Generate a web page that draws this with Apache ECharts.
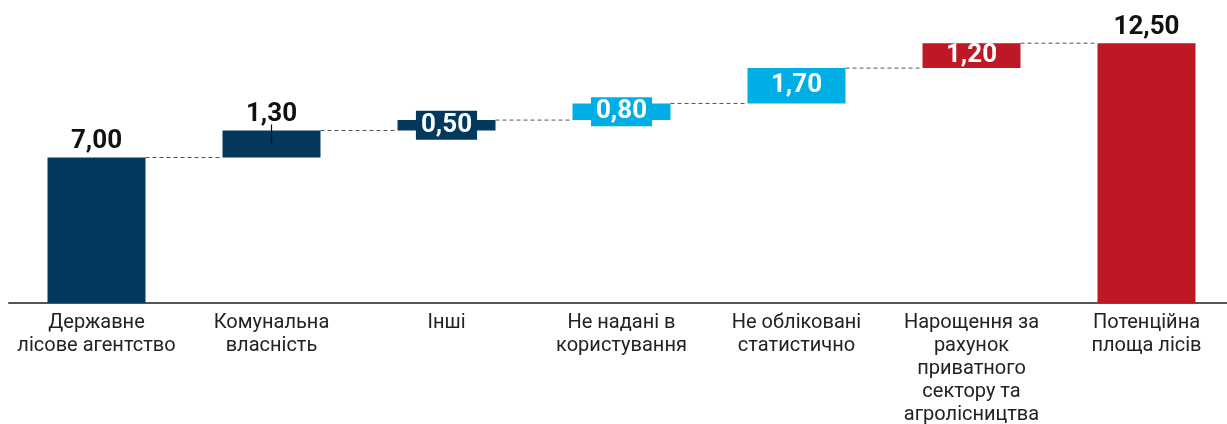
<!DOCTYPE html>
<html>
<head>
<meta charset="utf-8">
<script src="https://cdn.jsdelivr.net/npm/echarts@6/dist/echarts.min.js"></script>
<style>
html,body{margin:0;padding:0;background:#fff;}
#chart{width:1227px;height:424px;}
</style>
</head>
<body>
<div id="chart"></div>
<script>
const categories = [
  "Державне\nлісове агентство",
  "Комунальна\nвласність",
  "Інші",
  "Не надані в\nкористування",
  "Не обліковані\nстатистично",
  "Нарощення за\nрахунок\nприватного\nсектору та\nагролісництва",
  "Потенційна\nплоща лісів"
];
const values = [7.00, 1.30, 0.50, 0.80, 1.70, 1.20, 12.50];
const isTotal = [true, false, false, false, false, false, true];
const barColors = ["#03395C", "#03395C", "#03395C", "#00AEE6", "#00AEE6", "#BE1824", "#BE1824"];
const labelStyle = ["above", "above", "boxed", "boxed", "inside", "inside", "above"];
const tickMarked = [1];

// derived base (invisible) values
const bases = [];
let run = 0;
values.forEach((v, i) => {
  if (isTotal[i]) { bases.push(0); run = v; }
  else { bases.push(run); run += v; }
});
const tops = values.map((v, i) => bases[i] + v);

const fmt = v => v.toFixed(2).replace('.', ',');
const BAR_FRAC = 0.56;
const FONT = 'Roboto';
const VAL_FS = 26;

const barData = values.map((v, i) => {
  const s = labelStyle[i];
  const common = { show: true, fontSize: VAL_FS, fontWeight: 'bold', fontFamily: FONT, formatter: p => fmt(p.value) };
  const label = s === 'above'
    ? Object.assign({}, common, { position: 'top', distance: 3, color: '#111' })
    : s === 'boxed'
    ? Object.assign({}, common, { position: 'inside', color: '#fff', lineHeight: 26,
        backgroundColor: barColors[i], padding: [2, 5, 1, 5] })
    : Object.assign({}, common, { position: 'inside', color: '#fff' });
  return { value: v, itemStyle: { color: barColors[i] }, label };
});

const connectorData = [];
for (let i = 0; i < values.length - 1; i++) connectorData.push([i, tops[i]]);

const option = {
  animation: false,
  grid: { left: 9, width: 1225, top: 12, bottom: 121, containLabel: false, outerBoundsMode: 'none' },
  xAxis: {
    type: 'category',
    data: categories,
    axisLine: { lineStyle: { color: '#555', width: 2 } },
    axisTick: { show: false },
    axisLabel: { interval: 0, color: '#222', fontSize: 20, lineHeight: 23, fontFamily: FONT, margin: 8 }
  },
  yAxis: { type: 'value', min: 0, max: 14, show: false, splitLine: { show: false } },
  series: [
    {
      type: 'custom',
      z: 1,
      data: connectorData,
      encode: { x: 0, y: 1 },
      renderItem: function (params, api) {
        const i = api.value(0);
        const y = api.value(1);
        const bw = api.size([1, 0])[0] * BAR_FRAC;
        const p1 = api.coord([i, y]);
        const p2 = api.coord([i + 1, y]);
        return {
          type: 'line',
          shape: { x1: p1[0] + bw / 2, y1: p1[1], x2: p2[0] - bw / 2, y2: p2[1] },
          style: { stroke: '#555', lineWidth: 1, lineDash: [4, 3] }
        };
      }
    },
    {
      type: 'bar', stack: 'w', barWidth: (BAR_FRAC * 100) + '%', z: 2,
      itemStyle: { color: 'transparent' }, emphasis: { disabled: true },
      data: bases
    },
    {
      type: 'bar', stack: 'w', barWidth: (BAR_FRAC * 100) + '%', z: 3,
      data: barData
    },
    {
      type: 'custom',
      z: 4,
      data: tickMarked.map(i => [i, bases[i] + values[i] / 2, tops[i]]),
      encode: { x: 0, y: [1, 2] },
      renderItem: function (params, api) {
        const i = api.value(0);
        const a = api.coord([i, api.value(1)]);
        const b = api.coord([i, api.value(2)]);
        return {
          type: 'line',
          shape: { x1: a[0], y1: a[1], x2: b[0], y2: b[1] - 6 },
          style: { stroke: '#111', lineWidth: 1.2 }
        };
      }
    }
  ]
};

const chart = echarts.init(document.getElementById('chart'), null, { renderer: 'canvas' });
chart.setOption(option);
</script>
</body>
</html>
